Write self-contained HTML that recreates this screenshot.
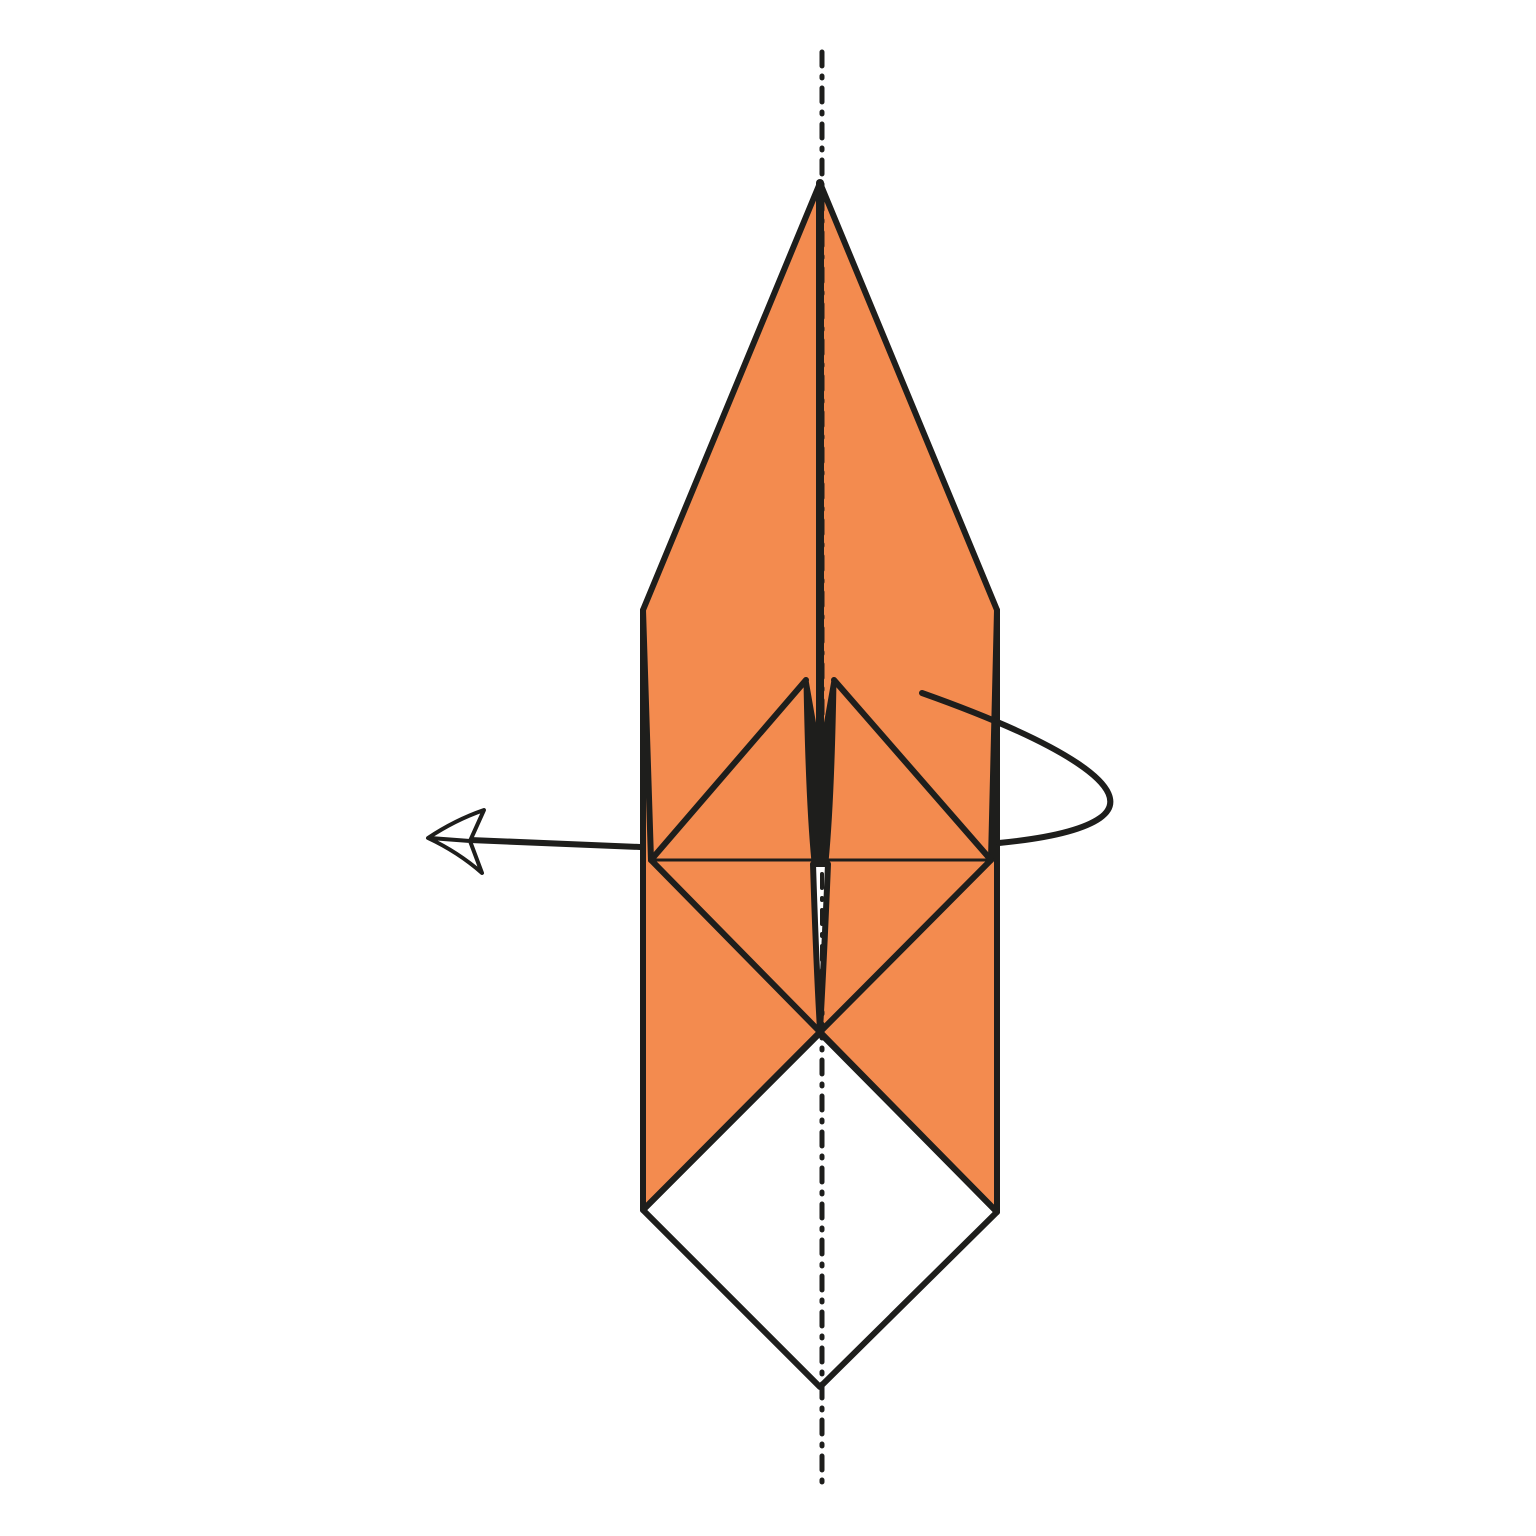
<!DOCTYPE html>
<html><head><meta charset="utf-8"><style>html,body{margin:0;padding:0;background:#fff}svg{display:block}</style></head>
<body>
<svg width="1536" height="1536" viewBox="0 0 1536 1536">
<g stroke="#1e1e1c" stroke-linejoin="round" stroke-linecap="round" fill="none">
<polygon points="820,183 643,610 643,1210 820,1033 997,1212 997,610" fill="#f38b4f" stroke="none"/>
<polygon points="820,1033 643,1210 820,1387 997,1212" fill="#fff" stroke-width="6"/>
<line x1="822" y1="52" x2="822" y2="1485" stroke-width="5" stroke-dasharray="14,10,2,10"/>
<polyline points="643,1210 643,610 820,183 997,610 997,1212" stroke-width="6"/>
<line x1="643" y1="610" x2="651" y2="860" stroke-width="6"/>
<line x1="997" y1="610" x2="991" y2="860" stroke-width="6"/>
<line x1="651" y1="860" x2="991" y2="860" stroke-width="3"/>
<line x1="651" y1="860" x2="997" y2="1212" stroke-width="6"/>
<line x1="991" y1="860" x2="643" y2="1210" stroke-width="6"/>
<polyline points="651,860 806,680" stroke-width="6"/>
<polyline points="991,860 834,680" stroke-width="6"/>
<path d="M806,680 Q808,800 814,862 L826,862 Q832,800 834,680 L820,760 Z" fill="#1e1e1c" stroke-width="5"/>
<path d="M813,864 L828,864 Q824,960 820,1030 Q816,960 813,864 Z" fill="#fff" stroke-width="6"/>
<line x1="822" y1="874" x2="822" y2="1000" stroke-width="4" stroke-dasharray="14,10,2,10"/>
<line x1="820" y1="183" x2="820" y2="860" stroke-width="8"/>
<line x1="640" y1="847" x2="470" y2="840" stroke-width="6"/>
<path d="M428,838 Q455,820 484,810 L470,841 L482,873 Q458,852 428,838 Z M430,838 L470,841" fill="#fff" stroke-width="4"/>
<path d="M922,693 C1060,742 1140,790 1100,818 C1080,832 1040,839 999,843" stroke-width="6"/>
</g>
</svg>
</body></html>
